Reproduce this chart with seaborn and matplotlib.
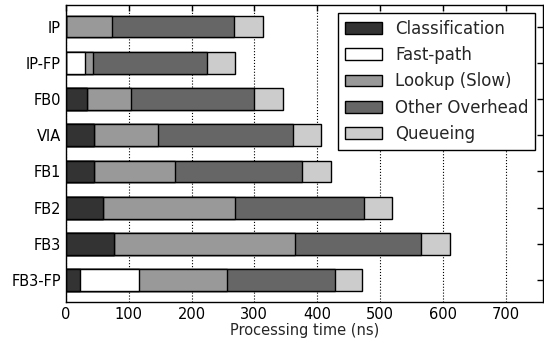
import pandas as pd
import matplotlib
matplotlib.use('Agg')
import matplotlib.pyplot as plt
import seaborn as sns
import numpy as np
from matplotlib.patches import Patch

# values (ns)
configs = ['IP', 'IP-FP', 'FB0', 'VIA', 'FB1', 'FB2', 'FB3', 'FB3-FP']
segments = ['Classification', 'Fast-path', 'Lookup (Slow)', 'Other Overhead', 'Queueing']
classification = [0, 0, 33, 45, 45, 59, 77, 23]
fast_path = [0, 31, 0, 0, 0, 0, 0, 94]
lookup = [74, 13, 70, 102, 129, 210, 287, 139]
other = [193, 180, 197, 214, 202, 205, 201, 172]
queueing = [47, 45, 46, 45, 46, 45, 46, 44]
colors = ['#333333', '#ffffff', '#999999', '#666666', '#cccccc']

df = pd.DataFrame({'config': configs,
                   'Classification': classification,
                   'Fast-path': fast_path,
                   'Lookup (Slow)': lookup,
                   'Other Overhead': other,
                   'Queueing': queueing})

# cumulative totals so each layer can be drawn over the previous one
cum = df[segments].cumsum(axis=1)
cum['config'] = df['config']

sns.set_style('white')
plt.rcParams['font.family'] = ['DejaVu Sans']

fig, ax = plt.subplots(figsize=(5.44, 3.43), dpi=100)
fig.subplots_adjust(left=0.121, right=0.999, top=0.986, bottom=0.12)

for seg, col in reversed(list(zip(segments, colors))):
    sns.barplot(data=cum, x=seg, y='config', order=configs, orient='h',
                color=col, saturation=1, width=0.6, edgecolor='black',
                linewidth=1, ax=ax)

ax.set_xlim(0, 760)
ax.set_ylim(7.6, -0.6)
ax.set_xticks(range(0, 800, 100))
ax.set_xlabel('Processing time (ns)', fontsize=10.5, labelpad=1)
ax.set_ylabel('')
ax.tick_params(axis='both', direction='in', top=True, right=True,
               length=4, width=1, labelsize=10.5, colors='black')
ax.xaxis.grid(True, linestyle=':', color='black', linewidth=0.8)
ax.yaxis.grid(False)
ax.set_axisbelow(True)
for sp in ax.spines.values():
    sp.set_color('black')
    sp.set_linewidth(1)

handles = [Patch(facecolor=c, edgecolor='black', label=s) for s, c in zip(segments, colors)]
leg = ax.legend(handles=handles, loc='upper right', fontsize=12, fancybox=False,
                framealpha=1, edgecolor='black', handlelength=2.2)
leg.get_frame().set_linewidth(1)

fig.savefig('out.png', dpi=100)
